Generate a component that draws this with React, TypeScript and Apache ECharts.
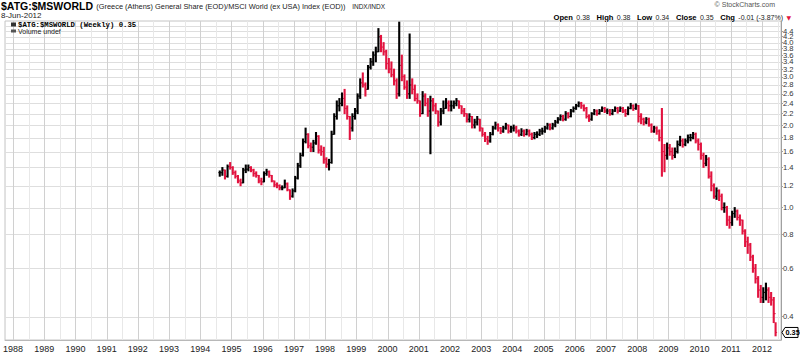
import React, { useEffect, useRef } from "react";
import * as echarts from "echarts";

// ---- data (monthly bars, Aug 1994 .. Jun 2012) ----
const firstMonth = { year: 1994, month: 8 };
const lastBarDate = "2012-06-08";

const closes = [
  // 1994 Aug-Dec
  1.34, 1.37, 1.30, 1.41, 1.40,
  // 1995
  1.34, 1.30, 1.25, 1.23, 1.37, 1.38, 1.40, 1.37, 1.33, 1.31, 1.25, 1.24,
  // 1996
  1.33, 1.35, 1.31, 1.25, 1.21, 1.20, 1.18, 1.18, 1.22, 1.16, 1.10, 1.15,
  // 1997
  1.28, 1.42, 1.55, 1.74, 1.85, 1.68, 1.66, 1.72, 1.82, 1.62, 1.60, 1.50,
  // 1998
  1.44, 1.46, 1.85, 2.15, 2.35, 2.40, 2.50, 2.30, 2.15, 1.95, 2.15, 2.25,
  // 1999
  2.55, 2.85, 2.80, 2.70, 3.25, 3.40, 3.60, 3.70, 4.20, 3.85, 3.70, 3.35,
  // 2000
  3.20, 3.05, 2.90, 2.60, 3.30, 3.00, 2.75, 2.60, 2.80, 2.70, 2.50, 2.45,
  // 2001
  2.20, 2.55, 2.40, 2.25, 2.45, 2.35, 2.25, 2.05, 2.25, 2.30, 2.40, 2.35,
  // 2002
  2.35, 2.40, 2.45, 2.35, 2.25, 2.20, 2.10, 2.15, 2.00, 2.05, 2.10, 1.95,
  // 2003
  1.85, 1.78, 1.75, 1.85, 1.95, 2.00, 1.95, 1.90, 1.95, 2.00, 1.90, 1.95,
  // 2004
  1.95, 1.90, 1.85, 1.90, 1.85, 1.90, 1.85, 1.80, 1.85, 1.85, 1.90, 1.90,
  // 2005
  1.95, 2.00, 1.95, 2.00, 2.05, 2.10, 2.15, 2.10, 2.20, 2.15, 2.25, 2.30,
  // 2006
  2.35, 2.40, 2.35, 2.30, 2.15, 2.10, 2.20, 2.25, 2.20, 2.25, 2.30, 2.25,
  // 2007
  2.25, 2.20, 2.25, 2.30, 2.25, 2.30, 2.25, 2.20, 2.30, 2.35, 2.30, 2.35,
  // 2008
  2.15, 2.10, 2.05, 2.10, 2.00, 1.90, 1.95, 1.90, 1.80, 1.60, 1.55, 1.65,
  // 2009
  1.60, 1.55, 1.60, 1.70, 1.75, 1.70, 1.75, 1.80, 1.80, 1.85, 1.75, 1.70,
  // 2010
  1.55, 1.45, 1.50, 1.30, 1.20, 1.10, 1.15, 1.10, 1.00, 1.00, 0.90, 0.88,
  // 2011
  0.95, 0.97, 0.92, 0.90, 0.82, 0.75, 0.73, 0.66, 0.60, 0.55, 0.50, 0.47,
  // 2012 Jan-Jun
  0.49, 0.50, 0.47, 0.46, 0.41, 0.35,
];

const highs = [
  1.36, 1.40, 1.37, 1.43, 1.46,
  1.41, 1.36, 1.31, 1.27, 1.39, 1.43, 1.43, 1.41, 1.38, 1.35, 1.31, 1.28,
  1.35, 1.38, 1.36, 1.31, 1.25, 1.23, 1.21, 1.20, 1.26, 1.23, 1.16, 1.17,
  1.30, 1.45, 1.58, 1.78, 1.95, 1.86, 1.72, 1.76, 1.88, 1.83, 1.68, 1.66,
  1.52, 1.50, 1.90, 2.20, 2.45, 2.50, 2.62, 2.70, 2.35, 2.15, 2.20, 2.30,
  2.60, 2.95, 3.10, 2.85, 3.30, 3.50, 3.70, 3.85, 4.50, 4.25, 4.00, 3.75,
  3.50, 3.40, 3.20, 2.95, 4.75, 3.60, 3.05, 2.90, 4.30, 2.95, 2.80, 2.60,
  2.45, 2.65, 2.60, 2.50, 2.55, 2.50, 2.40, 2.25, 2.30, 2.45, 2.50, 2.45,
  2.45, 2.45, 2.50, 2.45, 2.35, 2.30, 2.20, 2.20, 2.15, 2.10, 2.15, 2.10,
  1.95, 1.88, 1.82, 1.88, 1.98, 2.05, 2.02, 1.96, 1.98, 2.03, 2.00, 1.98,
  2.00, 1.98, 1.92, 1.94, 1.92, 1.93, 1.92, 1.87, 1.88, 1.89, 1.93, 1.95,
  1.98, 2.03, 2.02, 2.03, 2.08, 2.13, 2.18, 2.17, 2.24, 2.22, 2.28, 2.33,
  2.38, 2.43, 2.42, 2.37, 2.32, 2.18, 2.22, 2.28, 2.27, 2.28, 2.33, 2.32,
  2.29, 2.28, 2.28, 2.33, 2.32, 2.33, 2.32, 2.28, 2.33, 2.40, 2.37, 2.39,
  2.36, 2.20, 2.12, 2.13, 2.12, 2.02, 1.98, 1.97, 1.92, 2.30, 1.70, 1.72,
  1.70, 1.65, 1.65, 1.75, 1.82, 1.78, 1.78, 1.84, 1.85, 1.88, 1.87, 1.78,
  1.72, 1.58, 1.55, 1.52, 1.35, 1.22, 1.18, 1.16, 1.12, 1.04, 1.01, 0.93,
  0.97, 1.00, 0.98, 0.94, 0.90, 0.83, 0.78, 0.74, 0.67, 0.62, 0.56, 0.52,
  0.51, 0.53, 0.51, 0.49, 0.47, 0.38,
];

const lows = [
  1.30, 1.31, 1.27, 1.29, 1.38,
  1.32, 1.28, 1.23, 1.20, 1.23, 1.34, 1.36, 1.35, 1.30, 1.29, 1.23, 1.21,
  1.24, 1.31, 1.29, 1.24, 1.19, 1.18, 1.16, 1.16, 1.18, 1.15, 1.07, 1.09,
  1.14, 1.27, 1.40, 1.54, 1.72, 1.65, 1.60, 1.60, 1.70, 1.58, 1.55, 1.45,
  1.40, 1.37, 1.45, 1.85, 2.10, 2.25, 2.35, 2.20, 2.10, 1.77, 1.90, 2.10,
  2.20, 2.50, 2.75, 2.55, 2.70, 3.20, 3.30, 3.40, 3.70, 3.70, 3.60, 3.20,
  3.10, 3.00, 2.80, 2.50, 2.55, 2.90, 2.70, 2.50, 2.50, 2.60, 2.45, 2.40,
  2.15, 2.20, 2.35, 2.15, 1.57, 2.25, 2.20, 1.98, 2.00, 2.20, 2.30, 2.25,
  2.25, 2.30, 2.35, 2.30, 2.20, 2.15, 2.05, 2.05, 1.95, 1.95, 2.00, 1.90,
  1.82, 1.74, 1.70, 1.73, 1.84, 1.93, 1.90, 1.86, 1.88, 1.93, 1.87, 1.88,
  1.90, 1.87, 1.82, 1.83, 1.82, 1.84, 1.82, 1.77, 1.78, 1.80, 1.83, 1.85,
  1.88, 1.93, 1.92, 1.93, 1.97, 2.03, 2.08, 2.07, 2.08, 2.12, 2.14, 2.23,
  2.28, 2.33, 2.30, 2.25, 2.12, 2.06, 2.08, 2.18, 2.17, 2.19, 2.24, 2.22,
  2.20, 2.17, 2.18, 2.24, 2.21, 2.24, 2.22, 2.15, 2.18, 2.29, 2.26, 2.28,
  2.05, 2.02, 2.00, 2.02, 1.98, 1.88, 1.88, 1.85, 1.75, 1.30, 1.35, 1.50,
  1.55, 1.50, 1.52, 1.58, 1.68, 1.66, 1.68, 1.72, 1.75, 1.78, 1.72, 1.62,
  1.50, 1.40, 1.42, 1.28, 1.15, 1.08, 1.07, 1.06, 0.98, 0.96, 0.86, 0.84,
  0.86, 0.92, 0.90, 0.86, 0.80, 0.72, 0.68, 0.64, 0.58, 0.53, 0.47, 0.45,
  0.45, 0.46, 0.45, 0.44, 0.38, 0.34,
];

const yTickValues = [0.4, 0.6, 0.8, 1.0, 1.2, 1.4, 1.6, 1.8, 2.0, 2.2, 2.4, 2.6, 2.8, 3.0, 3.2, 3.4, 3.6, 3.8, 4.0, 4.2, 4.4, 4.6];
const yearLabels = [1988, 1989, 1990, 1991, 1992, 1993, 1994, 1995, 1996, 1997, 1998, 1999, 2000, 2001, 2002, 2003, 2004, 2005, 2006, 2007, 2008, 2009, 2010, 2011, 2012];

const headerSymbol = "$ATG:$MSWORLD";
const headerDesc = "(Greece (Athens) General Share (EOD)/MSCI World (ex USA) Index (EOD))";
const headerExch = "INDX/INDX";
const headerDate = "8-Jun-2012";
const quote = { open: "0.38", high: "0.38", low: "0.34", close: "0.35", chg: "-0.01 (-3.87%)" };

const RED = "#e2133f";
const BLACK = "#000000";
const X_MIN = 1987.744;
const X_MAX = 2012.608;
const Y_MIN = Math.log10(0.3285);
const Y_MAX = Math.log10(4.793);

function toYear(dateStr: string): number {
  const d = new Date(dateStr + "T00:00:00Z");
  const y = d.getUTCFullYear();
  const start = Date.UTC(y, 0, 1);
  const end = Date.UTC(y + 1, 0, 1);
  return y + (d.getTime() - start) / (end - start);
}

function buildBars() {
  const out: number[][] = [];
  for (let i = 0; i < closes.length; i++) {
    const mIdx = firstMonth.month - 1 + i;
    const y = firstMonth.year + Math.floor(mIdx / 12);
    const m = (mIdx % 12) + 1;
    const t = i === closes.length - 1 ? toYear(lastBarDate) : y + (m - 0.5) / 12;
    const prev = i === 0 ? closes[0] : closes[i - 1];
    const down = closes[i] < prev ? 1 : 0;
    out.push([t, Math.log10(prev), Math.log10(highs[i]), Math.log10(lows[i]), Math.log10(closes[i]), down]);
  }
  return out;
}

export default function App() {
  const ref = useRef<HTMLDivElement>(null);
  useEffect(() => {
    if (!ref.current) return;
    const chart = echarts.init(ref.current, null, { renderer: "svg" });
    const bars = buildBars();
    const yTicks = yTickValues.map((v) => Math.log10(v));

    const option: any = {
      animation: false,
      grid: { left: 4, right: 19, top: 21, bottom: 14, show: true, borderColor: "#c4c4c4", borderWidth: 1 },
      xAxis: {
        type: "value",
        min: X_MIN,
        max: X_MAX,
        axisLine: { show: true, onZero: false, lineStyle: { color: "#b8b8b8" } },
        axisTick: { show: false },
        axisLabel: {
          customValues: yearLabels,
          formatter: (v: number) => String(Math.round(v)),
          fontSize: 9, color: "#222", fontFamily: "Liberation Sans", margin: 4,
        },
        splitLine: { show: false },
      },
      yAxis: {
        type: "value",
        position: "right",
        min: Y_MIN,
        max: Y_MAX,
        axisLine: { show: true, onZero: false, lineStyle: { color: "#a0a0a0" } },
        axisTick: { show: true, length: 2, customValues: yTicks, lineStyle: { color: "#a0a0a0" } },
        axisLabel: {
          customValues: yTicks,
          formatter: (v: number) => Math.pow(10, v).toFixed(1),
          fontSize: 7.6, color: "#333", fontFamily: "Liberation Sans", margin: 2,
        },
        splitLine: { show: false },
      },
      series: [
        {
          type: "custom",
          name: "bars",
          z: 5,
          clip: true,
          data: bars,
          encode: { x: 0, y: [2, 3] },
          renderItem: (params: any, api: any) => {
            const t = api.value(0);
            const pO = api.coord([t, api.value(1)]);
            const pH = api.coord([t, api.value(2)]);
            const pL = api.coord([t, api.value(3)]);
            const pC = api.coord([t, api.value(4)]);
            const color = api.value(5) ? RED : BLACK;
            const x = pH[0];
            return {
              type: "group",
              children: [
                { type: "line", shape: { x1: x, y1: pH[1] - 0.4, x2: x, y2: pL[1] + 0.4 }, style: { stroke: color, lineWidth: 2.1 } },
                { type: "line", shape: { x1: x - 1.5, y1: pO[1], x2: x, y2: pO[1] }, style: { stroke: color, lineWidth: 0.9 } },
                { type: "line", shape: { x1: x, y1: pC[1], x2: x + 1.5, y2: pC[1] }, style: { stroke: color, lineWidth: 0.9 } },
              ],
            };
          },
        },
      ],
      graphic: [
        {
          type: "text", left: 1, top: 0,
          style: {
            text: `{t|${headerSymbol}} {s|${headerDesc}}  {u|${headerExch}}`,
            rich: {
              t: { fontFamily: "Liberation Sans", fontWeight: "bold", fontSize: 10.5, fill: "#000" },
              s: { fontFamily: "Liberation Sans", fontSize: 7.4, fill: "#222" },
              u: { fontFamily: "Liberation Sans", fontSize: 6.5, fill: "#222" },
            },
          },
        },
        { type: "text", left: 1, top: 11, style: { text: headerDate, fontFamily: "Liberation Sans", fontSize: 8, fill: "#222" } },
        { type: "text", right: 25, top: 1, style: { text: "© StockCharts.com", fontFamily: "Liberation Sans", fontSize: 7, fill: "#555" } },
        {
          type: "text", right: 9, top: 11,
          style: {
            text: `{b|Open} {v|${quote.open}}  {b|High} {v|${quote.high}}  {b|Low} {v|${quote.low}}  {b|Close} {v|${quote.close}}  {b|Chg} {v|${quote.chg}} {r|▼}`,
            rich: {
              b: { fontFamily: "Liberation Sans", fontWeight: "bold", fontSize: 7.6, fill: "#000" },
              v: { fontFamily: "Liberation Sans", fontSize: 7, fill: "#222" },
              r: { fontFamily: "DejaVu Sans", fontSize: 6, fill: RED },
            },
          },
        },
      ],
    };
    chart.setOption(option);

    // grid lines and overlays placed through the axes' own scales
    const xL = chart.convertToPixel({ xAxisIndex: 0 }, X_MIN) as number;
    const xR = chart.convertToPixel({ xAxisIndex: 0 }, X_MAX) as number;
    const yB = chart.convertToPixel({ yAxisIndex: 0 }, Y_MIN) as number;
    const yT = chart.convertToPixel({ yAxisIndex: 0 }, Y_MAX) as number;
    const gridEls: any[] = [];
    yTicks.forEach((v, i) => {
      const py = Math.round(chart.convertToPixel({ yAxisIndex: 0 }, v) as number) + 0.5;
      gridEls.push({ id: "h" + i, type: "line", z: 1, silent: true, shape: { x1: xL, y1: py, x2: xR, y2: py }, style: { stroke: "#dedede", lineWidth: 1 } });
    });
    for (let y = yearLabels[0]; y <= yearLabels[yearLabels.length - 1]; y++) {
      [0, 0.5].forEach((off) => {
        const px = Math.round(chart.convertToPixel({ xAxisIndex: 0 }, y + off) as number) + 0.5;
        if (px > xR) return;
        gridEls.push({
          id: "v" + y + "_" + off, type: "line", z: 1, silent: true,
          shape: { x1: px, y1: yT, x2: px, y2: yB },
          style: { stroke: off === 0 ? "#d0d0d0" : "#e8e8e8", lineWidth: 1 },
        });
      });
    }
    const lastY = chart.convertToPixel({ yAxisIndex: 0 }, Math.log10(closes[closes.length - 1])) as number;
    chart.setOption({
      graphic: [
        ...gridEls,
        { id: "ic1", type: "rect", z: 10, shape: { x: 11, y: 22.5, width: 5, height: 4 }, style: { fill: "#333" } },
        { id: "lg1", type: "text", z: 10, x: 18, y: 21.2, style: { text: `${headerSymbol} (Weekly) 0.35`, fontFamily: "Liberation Mono", fontWeight: "bold", fontSize: 7.3, fill: "#000" } },
        { id: "ic2", type: "rect", z: 10, shape: { x: 11, y: 29.5, width: 5, height: 3 }, style: { fill: "#555" } },
        { id: "lg2", type: "text", z: 10, x: 18, y: 28, style: { text: "Volume undef", fontFamily: "Liberation Sans", fontSize: 7, fill: "#222" } },
        {
          id: "tag", type: "polygon", z: 10,
          shape: { points: [[782, lastY], [785, lastY - 5], [798, lastY - 5], [798, lastY + 5], [785, lastY + 5]] },
          style: { fill: "#fff", stroke: "#000", lineWidth: 1 },
        },
        {
          id: "tagText", type: "text", z: 11, x: 785.5, y: lastY + 0.5,
          style: { text: closes[closes.length - 1].toFixed(2), fontFamily: "Liberation Sans", fontWeight: "bold", fontSize: 7.3, fill: "#000", textVerticalAlign: "middle" },
        },
      ],
    });
    return () => chart.dispose();
  }, []);
  return <div ref={ref} style={{ position: "absolute", left: 0, top: 0, width: 800, height: 354 }} />;
}
